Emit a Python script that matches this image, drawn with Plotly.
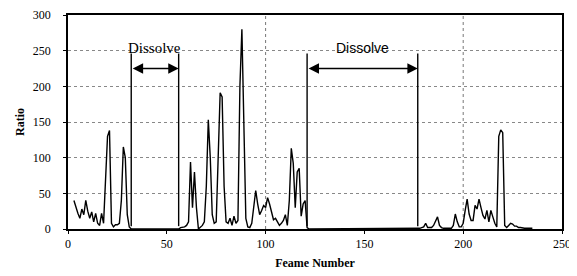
import plotly.graph_objects as go

# ---- data ----
frames = list(range(0, 236))
ratio_head = [None, None, None,
              40, 30, 22, 15, 28, 20, 40, 25, 15, 24, 10, 22, 8, 5, 22, 8,   # 3-18
              60, 130, 138, 8, 3, 6, 6, 8, 40, 115, 100, 20, 3]               # 19-31
ratio_dissolve1 = [0] * 25                                                     # 32-56
ratio_57_121 = [2, 2, 3, 5, 10, 94, 30, 80, 30, 0, 3, 5, 10, 60, 153, 100,    # 57-72
                20, 8, 10, 100, 191, 185, 60, 10, 8, 15, 5, 18, 8, 12, 200,    # 73-87
                280, 150, 15, 3, 2, 8, 30, 54, 35, 20, 26, 33, 30, 44, 35,     # 88-102
                24, 13, 15, 10, 5, 8, 12, 20, 5, 40, 113, 92, 30, 80, 85,      # 103-117
                18, 35, 40, 2]                                                 # 118-121
ratio_dissolve2 = [0] * 55                                                     # 122-176
ratio_tail = [1, 1, 2, 3, 8, 2, 2, 2, 5, 10, 17, 5, 2, 1, 1, 1, 1, 1, 5,       # 177-195
              21, 10, 3, 3, 8, 26, 42, 21, 12, 12, 33, 28, 42, 30, 19, 14,     # 196-211
              26, 10, 26, 17, 8, 3, 130, 139, 135, 5, 2, 5, 8, 7, 4, 4, 2,     # 212-228
              2, 1, 1, 1, 1, 1, 1]                                             # 229-235
ratio = ratio_head + ratio_dissolve1 + ratio_57_121 + ratio_dissolve2 + ratio_tail
ratio = ratio[:len(frames)]
frames = frames[:len(ratio)]

x_ticks = [0, 50, 100, 150, 200, 250]
y_ticks = [0, 50, 100, 150, 200, 250, 300]
x_grid = [100, 200]
dissolves = [(32, 56), (121, 177)]
dissolve_label = "Dissolve"

serif = "Liberation Serif"
sans = "Liberation Sans"

fig = go.Figure()
fig.add_trace(go.Scatter(x=frames, y=ratio, mode="lines",
                         line=dict(color="black", width=1.4),
                         connectgaps=False, showlegend=False))

shapes = []
for gx in x_grid:
    shapes.append(dict(type="line", xref="x", yref="y", x0=gx, x1=gx, y0=0, y1=300,
                       line=dict(color="#777", width=1, dash="dot"), layer="below"))
for (a, b) in dissolves:
    for xv in (a, b):
        shapes.append(dict(type="line", xref="x", yref="y", x0=xv, x1=xv, y0=4, y1=246,
                           line=dict(color="black", width=1.4)))
annotations = []
fonts = [dict(family=serif, size=15, color="black"), dict(family=sans, size=14, color="black")]
for i, (a, b) in enumerate(dissolves):
    annotations.append(dict(x=b, y=225, ax=a, ay=225, xref="x", yref="y", axref="x", ayref="y",
                            showarrow=True, arrowhead=2, startarrowhead=2, arrowside="end+start",
                            arrowsize=1.3, startarrowsize=1.3, arrowwidth=1.6, arrowcolor="black", text=""))
    annotations.append(dict(x=(a + b) / 2, y=254, xref="x", yref="y", text=dissolve_label,
                            showarrow=False, font=fonts[i]))

# the page body adds an 8px offset, so the figure is sized/margined to compensate
fig.update_layout(
    width=567, height=268,
    margin=dict(l=60, r=13, t=7, b=47),
    paper_bgcolor="white", plot_bgcolor="white",
    font=dict(family=serif, size=12, color="black"),
    shapes=shapes, annotations=annotations,
    xaxis=dict(range=[0, 250], tickvals=x_ticks, showgrid=False, zeroline=False,
               automargin=False,
               showline=True, linecolor="black", linewidth=1.5, mirror=True,
               ticks="outside", ticklen=3, tickcolor="black",
               tickfont=dict(family=serif, size=12, color="black"),
               title=dict(text="<b>Feame Number</b>", font=dict(family=serif, size=12, color="black"),
                          standoff=8)),
    yaxis=dict(range=[0, 300], tickvals=y_ticks, showgrid=True, gridcolor="#888",
               griddash="dot", gridwidth=1, zeroline=False,
               automargin=False,
               showline=True, linecolor="black", linewidth=1.5, mirror=True,
               ticks="outside", ticklen=3, tickcolor="black",
               tickfont=dict(family=serif, size=12, color="black"),
               ticklabelstandoff=10,
               title=dict(text="<b>Ratio</b>", font=dict(family=serif, size=12, color="black"),
                          standoff=6)),
)

fig.write_html("out.html")
